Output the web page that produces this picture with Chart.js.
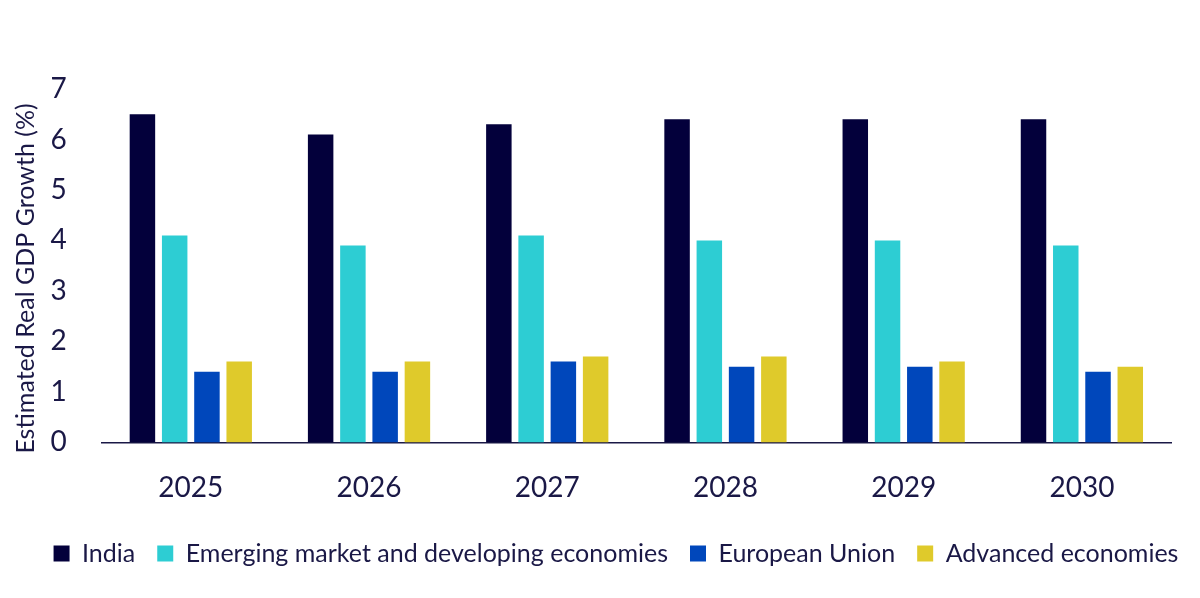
<!DOCTYPE html>
<html>
<head>
<meta charset="utf-8">
<script src="https://cdn.jsdelivr.net/npm/chart.js@4.4.1/dist/chart.umd.min.js"></script>
<style>
  html, body { margin: 0; padding: 0; background: #fff; }
  #wrap { width: 1200px; height: 598px; }
</style>
</head>
<body>
<div id="wrap"><canvas id="chart"></canvas></div>
<script>
// values
var years = ['2025', '2026', '2027', '2028', '2029', '2030'];
var india = [6.5, 6.1, 6.3, 6.4, 6.4, 6.4];
var emde = [4.1, 3.9, 4.1, 4.0, 4.0, 3.9];
var eu = [1.4, 1.4, 1.6, 1.5, 1.5, 1.4];
var advanced = [1.6, 1.6, 1.7, 1.7, 1.6, 1.5];
var yTicks = [0, 1, 2, 3, 4, 5, 6, 7];

var textColor = '#1a1846';
var fontFamily = 'Lato, "Noto Sans", sans-serif';

// the legend in the reference sits a little right of centre
var legendShift = {
    id: 'legendShift',
    afterLayout: function (chart) {
        chart.legend.left += 16;
        chart.legend.right += 16;
    },
};

document.addEventListener('DOMContentLoaded', function () {
    var ctx = document.getElementById('chart').getContext('2d');

    var data = {
        labels: years,
        datasets: [
            { label: 'India', data: india, backgroundColor: '#03003b' },
            { label: 'Emerging market and developing economies', data: emde, backgroundColor: '#2dcdd3' },
            { label: 'European Union', data: eu, backgroundColor: '#0047bb' },
            { label: 'Advanced economies', data: advanced, backgroundColor: '#dfca2b' },
        ],
    };

    var options = {
        responsive: true,
        maintainAspectRatio: false,
        animation: false,
        layout: {
            padding: { top: 89, left: 9, right: 9, bottom: 22 },
        },
        datasets: {
            bar: {
                categoryPercentage: 0.724,
                barPercentage: 0.79,
            },
        },
        scales: {
            x: {
                afterFit: function (scale) { scale.height = 76.6; },
                grid: { display: false, drawTicks: false },
                border: { display: true, color: '#1a1846', width: 1.5 },
                ticks: {
                    color: textColor,
                    padding: 29,
                    font: { family: fontFamily, size: 28 },
                },
            },
            y: {
                min: 0,
                max: 7,
                afterBuildTicks: function (scale) {
                    scale.ticks = yTicks.map(function (v) { return { value: v }; });
                },
                afterFit: function (scale) { scale.width = 92.7; },
                grid: { display: false, drawTicks: false },
                border: { display: false },
                ticks: {
                    color: textColor,
                    padding: 35,
                    font: { family: fontFamily, size: 28 },
                },
                title: {
                    display: true,
                    text: 'Estimated Real GDP Growth (%)\u00a0\u00a0\u00a0\u00a0',
                    color: textColor,
                    padding: { top: 2, bottom: 4 },
                    font: { family: fontFamily, size: 25 },
                },
            },
            // empty strip on the right so the plot ends where the reference does
            yRight: {
                position: 'right',
                afterFit: function (scale) { scale.width = 20; },
                grid: { display: false, drawTicks: false },
                border: { display: false },
                ticks: { display: false },
            },
        },
        plugins: {
            tooltip: { enabled: false },
            legend: {
                position: 'bottom',
                labels: {
                    color: textColor,
                    boxWidth: 16,
                    boxHeight: 16,
                    padding: 22,
                    font: { family: fontFamily, size: 25 },
                },
            },
        },
    };

    new Chart(ctx, {
        type: 'bar',
        data: data,
        options: options,
        plugins: [legendShift],
    });
});
</script>
</body>
</html>
